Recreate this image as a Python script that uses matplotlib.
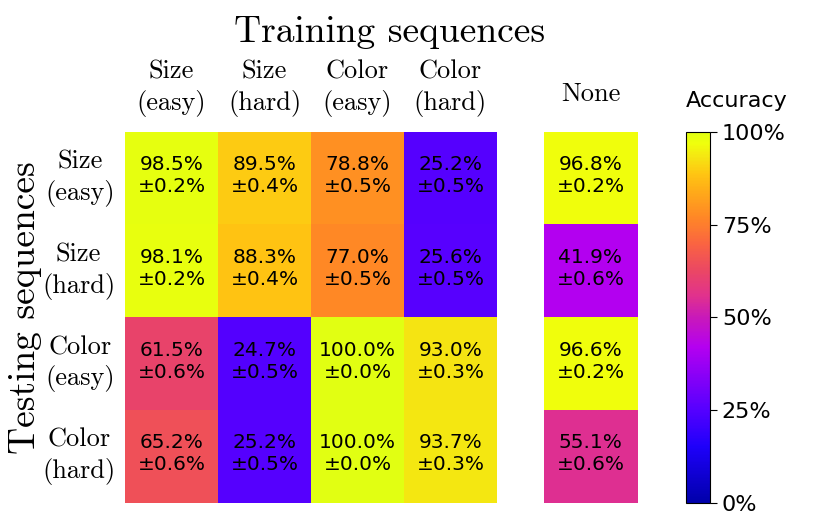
import numpy as np
import matplotlib
matplotlib.use("Agg")
import matplotlib.pyplot as plt
from matplotlib.colors import LinearSegmentedColormap
from matplotlib.ticker import PercentFormatter

train_labels = ["Size\n(easy)", "Size\n(hard)", "Color\n(easy)", "Color\n(hard)"]
test_labels = ["Size\n(easy)", "Size\n(hard)", "Color\n(easy)", "Color\n(hard)"]

acc = np.array([
    [98.5, 89.5, 78.8, 25.2],
    [98.1, 88.3, 77.0, 25.6],
    [61.5, 24.7, 100.0, 93.0],
    [65.2, 25.2, 100.0, 93.7],
])
acc_err = np.array([
    [0.2, 0.4, 0.5, 0.5],
    [0.2, 0.4, 0.5, 0.5],
    [0.6, 0.5, 0.0, 0.3],
    [0.6, 0.5, 0.0, 0.3],
])
none_acc = np.array([96.8, 41.9, 96.6, 55.1])
none_err = np.array([0.2, 0.6, 0.2, 0.6])

# blue -> violet -> magenta -> orange -> yellow
cmap = LinearSegmentedColormap.from_list("acc", [
    (0.00, (0/255, 0/255, 170/255)),
    (0.15, (30/255, 0/255, 250/255)),
    (0.25, (85/255, 0/255, 255/255)),
    (0.42, (180/255, 0/255, 240/255)),
    (0.50, (200/255, 25/255, 185/255)),
    (0.56, (225/255, 50/255, 140/255)),
    (0.63, (235/255, 72/255, 98/255)),
    (0.70, (250/255, 100/255, 65/255)),
    (0.77, (255/255, 135/255, 38/255)),
    (0.84, (255/255, 170/255, 25/255)),
    (0.89, (255/255, 198/255, 18/255)),
    (0.935, (245/255, 230/255, 18/255)),
    (0.97, (240/255, 255/255, 12/255)),
    (1.00, (225/255, 255/255, 18/255)),
])

serif = "cmr10"

fig = plt.figure(figsize=(8.29, 5.25), dpi=100)
ax = fig.add_axes([0.1508, 0.0419, 0.4487, 0.7067])
ax2 = fig.add_axes([0.6562, 0.0419, 0.1122, 0.7067])
cax = fig.add_axes([0.8275, 0.0419, 0.029, 0.7067])

im = ax.imshow(acc, cmap=cmap, vmin=0, vmax=100, aspect="auto")
ax2.imshow(none_acc[:, None], cmap=cmap, vmin=0, vmax=100, aspect="auto")

for i in range(acc.shape[0]):
    for j in range(acc.shape[1]):
        ax.text(j, i - 0.03, f"{acc[i, j]:.1f}%\n\u00b1{acc_err[i, j]:.1f}%",
                ha="center", va="center", fontsize=14.5, color="black")
    ax2.text(0, i - 0.03, f"{none_acc[i]:.1f}%\n\u00b1{none_err[i]:.1f}%",
             ha="center", va="center", fontsize=14.5, color="black")

ax.xaxis.tick_top()
ax.set_xticks(range(4))
ax.set_xticklabels(train_labels, fontfamily=serif, fontsize=19, linespacing=1.32)
ax.set_yticks(range(4))
ax.set_yticklabels(test_labels, fontfamily=serif, fontsize=19, linespacing=1.32,
                   multialignment="center", va="center")
ax.tick_params(length=0, pad=7)
ax.tick_params(axis="x", pad=11)
fig.text(390 / 829, 1 - 32 / 525, "Training sequences", fontfamily=serif,
         fontsize=27, ha="center", va="center")
fig.text(25 / 829, 1 - 308 / 525, "Testing sequences", fontfamily=serif,
         fontsize=27, ha="center", va="center", rotation=90)

ax2.xaxis.tick_top()
ax2.set_xticks([0])
ax2.set_xticklabels(["None"], fontfamily=serif, fontsize=19)
ax2.set_yticks([])
ax2.tick_params(length=0, pad=19)

for a in (ax, ax2):
    for s in a.spines.values():
        s.set_visible(False)

cbar = fig.colorbar(im, cax=cax, ticks=[0, 25, 50, 75, 100])
cbar.ax.yaxis.set_major_formatter(PercentFormatter(decimals=0))
cbar.ax.tick_params(labelsize=16, length=5)
cbar.ax.set_title("Accuracy", fontsize=16, loc="left", pad=18)

fig.savefig("out.png", dpi=100)
plt.close(fig)
